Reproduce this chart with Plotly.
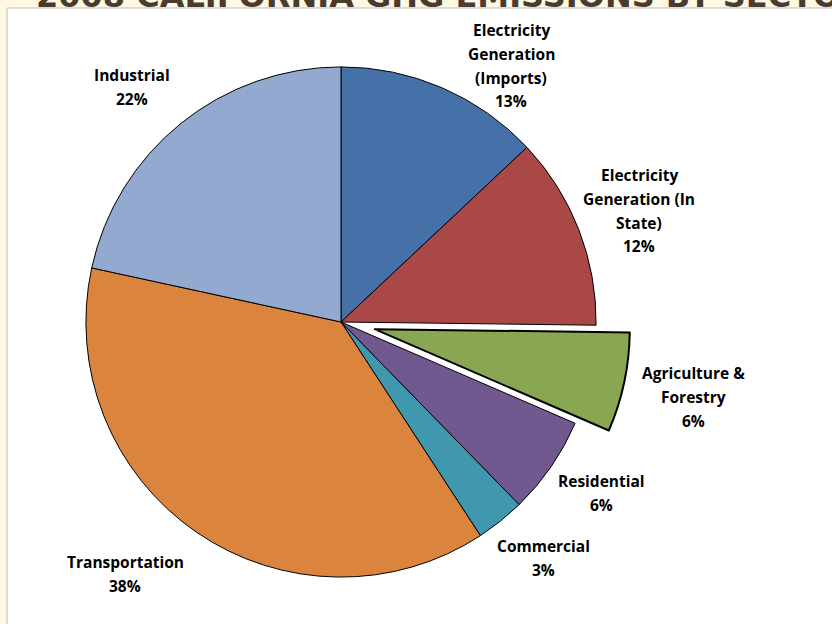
import math
import plotly.graph_objects as go

# ---- data ----
categories = [
    "Electricity Generation (Imports)",
    "Electricity Generation (In State)",
    "Agriculture & Forestry",
    "Residential",
    "Commercial",
    "Transportation",
    "Industrial",
]
values = [13.0, 12.2, 6.3, 6.2, 3.1, 37.6, 21.6]
label_lines = [
    ["Electricity", "Generation", "(Imports)"],
    ["Electricity", "Generation (In", "State)"],
    ["Agriculture &", "Forestry"],
    ["Residential"],
    ["Commercial"],
    ["Transportation"],
    ["Industrial"],
]
title_text = "2008 CALIFORNIA GHG EMISSIONS BY SECTOR"

# ---- style ----
colors = ["#4571A8", "#A94846", "#89A752", "#71588F", "#4098AF", "#DB843D", "#93A9CF"]
pulls = [0, 0, 0.135, 0, 0, 0, 0]
line_w = [1, 1, 2, 1, 1, 1, 1]
W, H = 832, 624
# label positions in pixels (center x, first line center y)
label_pos = [(511, 30), (639, 175), (693, 373), (601, 481), (543, 546), (125, 562), (132, 75)]
line_gap = 23.8

cx, cy, half = 341 / W, 1 - 322 / H, 0.4640
fig = go.Figure()
fig.add_trace(go.Pie(
    labels=categories,
    values=values,
    sort=False,
    direction="clockwise",
    rotation=0,
    pull=pulls,
    textinfo="none",
    hoverinfo="label+percent",
    marker=dict(colors=colors, line=dict(color="#000000", width=line_w)),
    domain=dict(x=[cx - 0.36, cx + 0.36], y=[cy - half, cy + half]),
    showlegend=False,
))

total = sum(values)
annotations = []
for lines, v, (px, py) in zip(label_lines, values, label_pos):
    pct = int(math.floor(v / total * 100 + 0.5))
    all_lines = lines + [f"{pct}%"]
    for i, t in enumerate(all_lines):
        annotations.append(dict(
            x=px / W, y=1 - (py + i * line_gap) / H, xref="paper", yref="paper",
            text=f"<b>{t}</b>", showarrow=False, xanchor="center", yanchor="middle",
            font=dict(family="Open Sans", size=15.5, color="#000000"),
        ))

annotations.append(dict(
    x=34 / W, y=1 - 17 / H, xref="paper", yref="paper",
    text=f"<b>{title_text}</b>", showarrow=False, xanchor="left", yanchor="bottom",
    font=dict(family="DejaVu Sans", size=32, color="#4A3B2F"),
))

fig.update_layout(
    width=W, height=H,
    margin=dict(l=0, r=0, t=0, b=0),
    paper_bgcolor="#FFF8E3",
    plot_bgcolor="#FFFFFF",
    shapes=[dict(
        type="rect", xref="paper", yref="paper",
        x0=7 / W, x1=1.02, y0=-0.02, y1=1 - 8 / H,
        fillcolor="#FFFFFF", line=dict(color="#BDBDBD", width=1), layer="below",
    )],
    annotations=annotations,
)

fig.write_html("out.html")
